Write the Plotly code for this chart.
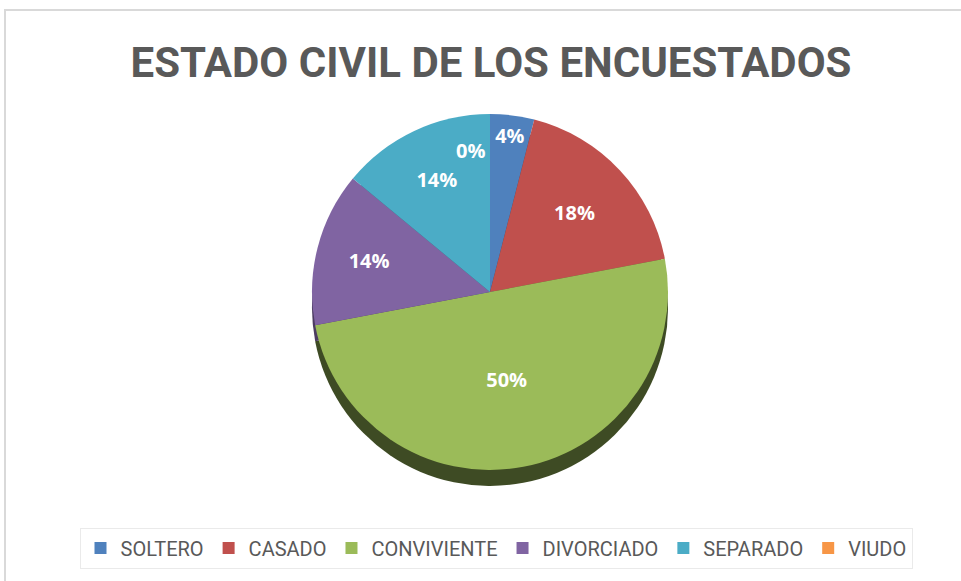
import plotly.graph_objects as go

categories = ["SOLTERO", "CASADO", "CONVIVIENTE", "DIVORCIADO", "SEPARADO", "VIUDO"]
values = [4, 18, 50, 14, 14, 0]
colors = ["#4F81BD", "#C0504D", "#9BBB59", "#8064A2", "#4BACC6", "#F79646"]
depth_colors = ["#2F4D71", "#73302E", "#3E4B24", "#4C3C61", "#2D6776", "#94592A"]
title_text = "ESTADO CIVIL DE LOS ENCUESTADOS"

W, H = 961, 581
cx, cy, r = 490, 292, 178
depth = 16

def dom(cx, cy, r):
    return dict(x=[(cx - r) / W, (cx + r) / W], y=[1 - (cy + r) / H, 1 - (cy - r) / H])

fig = go.Figure()
# side (depth) of the 3D-style pie
fig.add_trace(go.Pie(
    labels=categories, values=values, sort=False, direction="clockwise", rotation=0,
    marker=dict(colors=depth_colors, line=dict(width=0)),
    textinfo="none", hoverinfo="skip", showlegend=False,
    domain=dom(cx, cy + depth, r),
))
fig.add_trace(go.Pie(
    labels=categories, values=values, sort=False, direction="clockwise", rotation=0,
    marker=dict(colors=colors, line=dict(width=0)),
    texttemplate="%{percent:.0%}", textposition="inside", insidetextorientation="horizontal",
    textfont=dict(family="Open Sans", size=20, color="white", weight="bold"),
    domain=dom(cx, cy, r),
))

# label for the zero-valued slice (VIUDO), which the pie itself does not print
fig.add_annotation(
    text=f"<b>{values[5]}%</b>", xref="paper", yref="paper",
    x=470 / W, y=1 - 150 / H, xanchor="center", yanchor="middle", showarrow=False,
    font=dict(family="Open Sans", size=20, color="white"),
)

fig.update_layout(
    width=W, height=H,
    margin=dict(l=0, r=0, t=0, b=0),
    paper_bgcolor="white", plot_bgcolor="white",
    title=dict(
        text=f"<b>{title_text}</b>",
        x=491 / W, xanchor="center", y=1 - 62 / H, yanchor="middle",
        font=dict(family="Roboto", size=42, color="#595959"),
    ),
    legend=dict(
        orientation="h", x=496 / W, xanchor="center", y=1 - 548 / H, yanchor="middle",
        font=dict(family="Roboto", size=20, color="#595959"),
        bgcolor="white", bordercolor="#EAEAEA", borderwidth=1,
        traceorder="normal", itemwidth=30,
    ),
    shapes=[dict(type="rect", xref="paper", yref="paper",
                 x0=5 / W, x1=1.01, y0=-0.01, y1=1 - 10 / H,
                 line=dict(color="#D9D9D9", width=2), fillcolor="rgba(0,0,0,0)", layer="below")],
)

fig.write_html("out.html", config={"displayModeBar": False},
               post_script="document.body.style.margin='0';")
